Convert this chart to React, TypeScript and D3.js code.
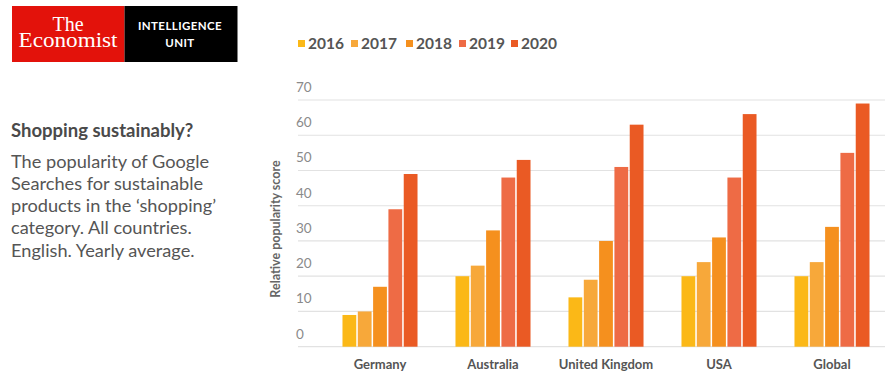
import React from "react";
import * as d3 from "d3";

const categories = ["Germany", "Australia", "United Kingdom", "USA", "Global"];
const years = ["2016", "2017", "2018", "2019", "2020"];
const v2016 = [9, 20, 14, 20, 20];
const v2017 = [10, 23, 19, 24, 24];
const v2018 = [17, 33, 30, 31, 34];
const v2019 = [39, 48, 51, 48, 55];
const v2020 = [49, 53, 63, 66, 69];
const series = [v2016, v2017, v2018, v2019, v2020];
const yTicks = [0, 10, 20, 30, 40, 50, 60, 70];
const colors = ["#FBB817", "#F7A83A", "#F5901E", "#EE6B45", "#EA5A24"];
const titleText = "Shopping sustainably?";
const bodyLines = [
  "The popularity of Google",
  "Searches for sustainable",
  "products in the \u2018shopping\u2019",
  "category. All countries.",
  "English. Yearly average.",
];

export default function App() {
  const W = 888, H = 373;
  const y = d3.scaleLinear().domain([0, 70]).range([346.7, 100]);
  const x0 = d3.scaleBand().domain(categories).range([323.5, 888.5]).paddingInner(0.336).paddingOuter(0.168);
  const x1 = d3.scaleBand().domain(years).range([0, x0.bandwidth()]).paddingInner(0.1);
  const font = "Lato, 'Open Sans', sans-serif";
  const legendX = d3.scaleOrdinal<string, number>().domain(years).range([298, 351, 406, 459, 511]);
  const serif = "'Liberation Serif', 'DejaVu Serif', serif";
  return (
    <svg width={W} height={H} style={{ position: "absolute", left: 0, top: 0, background: "#fff" }} fontFamily={font}>
      {/* Logo */}
      <rect x={12} y={6} width={112.5} height={56} fill="#E3120B" />
      <rect x={124.5} y={6} width={113} height={56} fill="#000" />
      <text x={68} y={31} fill="#fff" fontFamily={serif} fontSize={20} textAnchor="middle">The</text>
      <text x={68} y={47} fill="#fff" fontFamily={serif} fontSize={20} textAnchor="middle" textLength={99} lengthAdjust="spacingAndGlyphs">Economist</text>
      <text x={180} y={29.5} fill="#fff" fontSize={11.5} fontWeight={700} textAnchor="middle" letterSpacing={0.4}>INTELLIGENCE</text>
      <text x={180} y={47} fill="#fff" fontSize={11.5} fontWeight={700} textAnchor="middle" letterSpacing={0.4}>UNIT</text>

      {/* Title */}
      <text x={11} y={137} fill="#4a4a4a" fontSize={18.5} fontWeight={700}>{titleText}</text>
      {bodyLines.map((l, i) => (
        <text key={i} x={11} y={167.5 + i * 22.3} fill="#555" fontSize={18.2}>{l}</text>
      ))}

      {/* Legend */}
      {years.map((yr, i) => (
        <g key={yr}>
          <rect x={legendX(yr)} y={40} width={7} height={7} fill={colors[i]} />
          <text x={legendX(yr) + 10} y={48.5} fill="#555" fontSize={15.5} fontWeight={700}>{yr}</text>
        </g>
      ))}

      {/* Gridlines */}
      {yTicks.map((t) => (
        <g key={t}>
          <line x1={298} x2={885} y1={y(t)} y2={y(t)} stroke="#e2e2e2" strokeWidth={1.2} />
          <text x={296} y={y(t) - 8} fill="#8a8a8a" fontSize={13.5}>{t}</text>
        </g>
      ))}
      <text transform={`translate(280,229) rotate(-90)`} textAnchor="middle" fill="#666" fontSize={12.5} fontWeight={700}>Relative popularity score</text>

      {/* Bars */}
      {categories.map((c, ci) => (
        <g key={c} transform={`translate(${x0(c)},0)`}>
          {series.map((s, si) => (
            <rect key={si} x={x1(years[si])} y={y(s[ci])} width={x1.bandwidth()} height={y(0) - y(s[ci])} fill={colors[si]} />
          ))}
          <text x={x0.bandwidth() / 2} y={368.5} textAnchor="middle" fill="#555" fontSize={13} fontWeight={700}>{c}</text>
        </g>
      ))}
    </svg>
  );
}
